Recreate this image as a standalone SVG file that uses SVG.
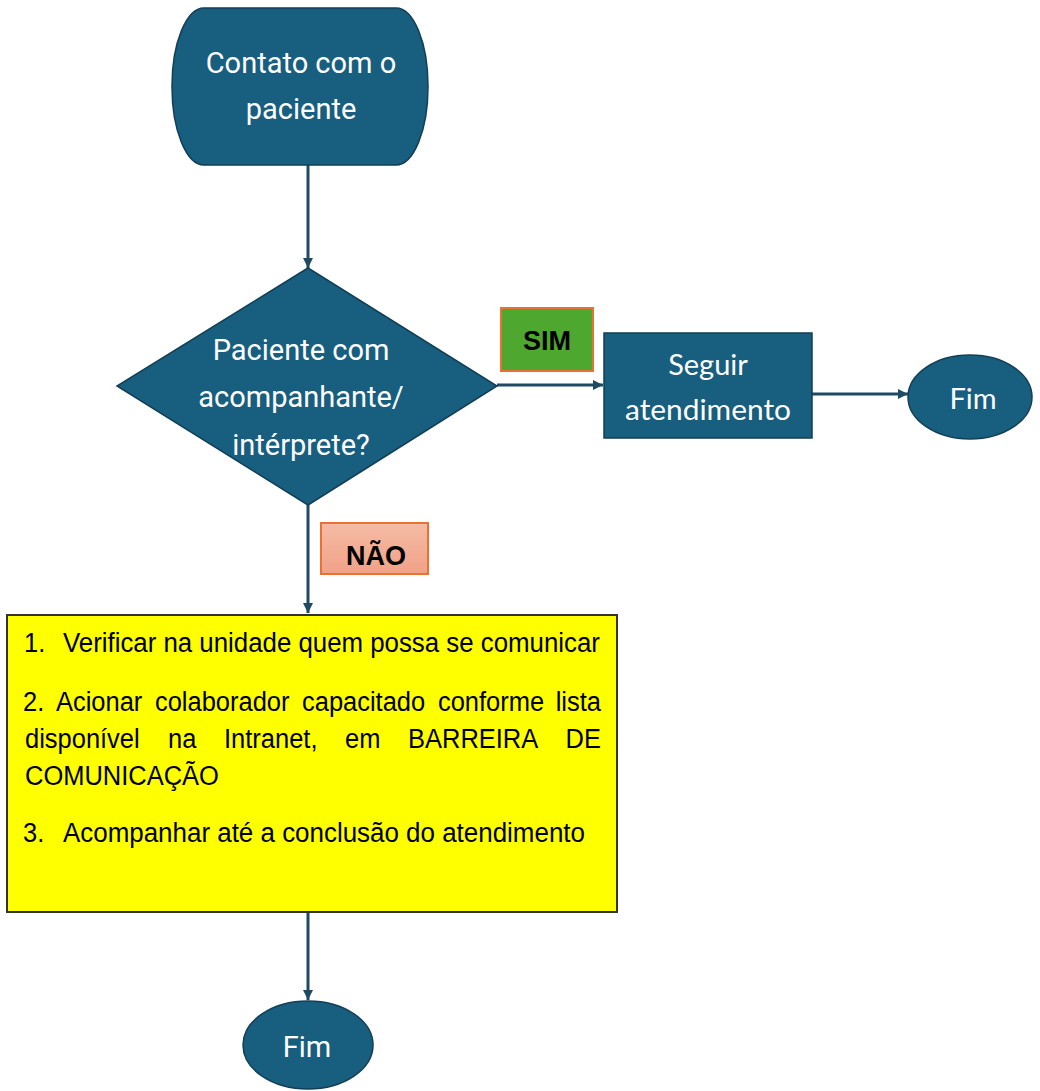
<svg xmlns="http://www.w3.org/2000/svg" width="1040" height="1091" viewBox="0 0 1040 1091">
  <defs>
    <marker id="arrow" markerUnits="userSpaceOnUse" markerWidth="12" markerHeight="12" refX="10" refY="5" orient="auto">
      <path d="M0,0 L10,5 L0,10 z" fill="#1E4A63"/>
    </marker>
    <linearGradient id="naoGrad" x1="0" y1="0" x2="0" y2="1">
      <stop offset="0" stop-color="#F6BBA5"/>
      <stop offset="1" stop-color="#F0A286"/>
    </linearGradient>
    <style>
      .blue { fill: #175E7F; stroke: #123F55; stroke-width: 1.5; }
      .wt { fill: #FFFFFF; font-family: Roboto, "Liberation Sans", sans-serif; font-size: 29px; text-anchor: middle; }
      .wt2 { fill: #FFFFFF; font-family: Lato, "Liberation Sans", sans-serif; font-size: 29px; text-anchor: middle; }
      .lbl { fill: #000000; font-family: "Liberation Sans", Arial, sans-serif; font-weight: bold; font-size: 27px; text-anchor: middle; }
      .yt { fill: #000000; font-family: "Liberation Sans", Arial, sans-serif; font-size: 28px; }
      .end { text-anchor: end; }
      .conn { fill: none; stroke: #1E4A63; stroke-width: 3; marker-end: url(#arrow); }
    </style>
  </defs>

  <g id="connectors">
    <path class="conn" d="M308,165 V268"/>
    <path class="conn" d="M497,385 H603"/>
    <path class="conn" d="M812,394 H908"/>
    <path class="conn" d="M308,505 V613"/>
    <path class="conn" d="M308,912 V1000"/>
  </g>

  <g id="start">
    <rect class="blue" x="172" y="8" width="256" height="157" rx="32" ry="78"/>
    <text class="wt" x="301" y="73">Contato com o</text>
    <text class="wt" x="301" y="119">paciente</text>
  </g>

  <g id="decision">
    <polygon class="blue" points="308,268 497,386 308,505 117,386"/>
    <text class="wt" x="301" y="360">Paciente com</text>
    <text class="wt" x="301" y="407">acompanhante/</text>
    <text class="wt" x="301" y="455">intérprete?</text>
  </g>

  <g id="label-sim">
    <rect x="501" y="308" width="92" height="63" fill="#4EA72E" stroke="#E97132" stroke-width="2"/>
    <text class="lbl" x="547" y="350">SIM</text>
  </g>

  <g id="process">
    <rect class="blue" x="604" y="333" width="208" height="105"/>
    <text class="wt2" x="708" y="375">Seguir</text>
    <text class="wt2" x="708" y="420" textLength="166" lengthAdjust="spacingAndGlyphs">atendimento</text>
  </g>

  <g id="end-right">
    <ellipse class="blue" cx="970" cy="397" rx="62" ry="42"/>
    <text class="wt2" x="973" y="409">Fim</text>
  </g>

  <g id="label-nao">
    <rect x="321" y="523" width="107" height="51" fill="url(#naoGrad)" stroke="#E97132" stroke-width="2"/>
    <text class="lbl" x="376" y="565">NÃO</text>
  </g>

  <g id="actions">
    <rect x="7" y="615" width="610" height="297" fill="#FFFF00" stroke="#333333" stroke-width="2"/>
    <g transform="scale(0.91 1)">
      <text class="yt" x="26.4" y="652">1.</text>
      <text class="yt" x="69.2" y="652" textLength="590" lengthAdjust="spacingAndGlyphs">Verificar na unidade quem possa se comunicar</text>
      <text class="yt" y="711"><tspan x="25.3">2.</tspan><tspan x="61.5">Acionar</tspan><tspan x="170.3">colaborador</tspan><tspan x="331.9">capacitado</tspan><tspan x="481.3">conforme</tspan></text>
      <text class="yt end" x="660.4" y="711">lista</text>
      <text class="yt" y="748"><tspan x="27.5">disponível</tspan><tspan x="184.6">na</tspan><tspan x="246.2">Intranet,</tspan><tspan x="379.1">em</tspan><tspan x="448.4">BARREIRA</tspan></text>
      <text class="yt end" x="660.4" y="748">DE</text>
      <text class="yt" x="27.5" y="785">COMUNICAÇÃO</text>
      <text class="yt" x="25.3" y="842">3.</text>
      <text class="yt" x="69.2" y="842" textLength="573.6" lengthAdjust="spacingAndGlyphs">Acompanhar até a conclusão do atendimento</text>
    </g>
  </g>

  <g id="end-bottom">
    <ellipse class="blue" cx="308" cy="1045" rx="65" ry="44"/>
    <text class="wt" x="307" y="1057">Fim</text>
  </g>
</svg>
